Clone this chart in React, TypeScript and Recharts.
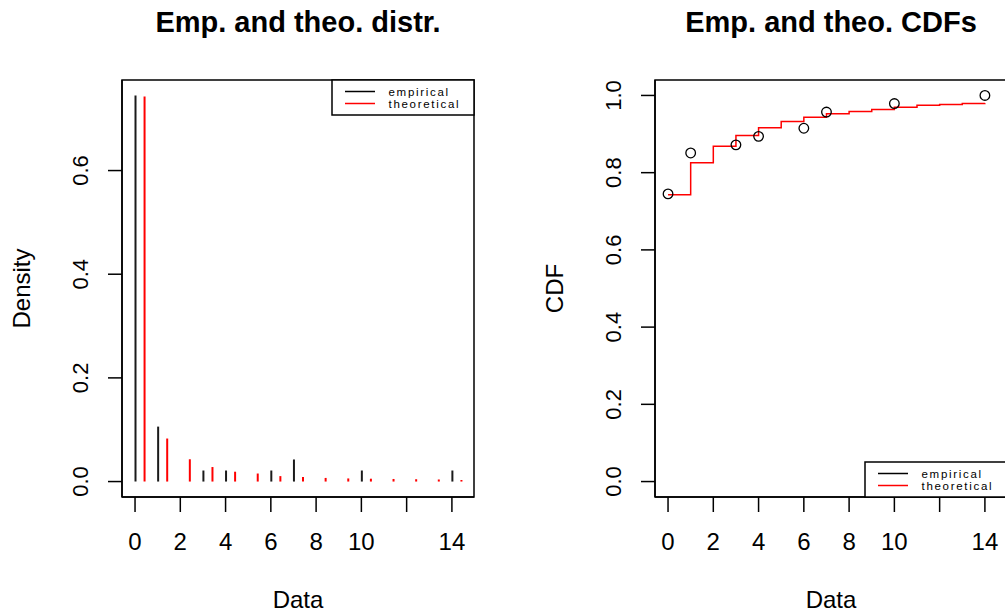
import React from 'react';
import { ComposedChart, Bar, Line, Scatter, XAxis, YAxis, Label, ReferenceArea } from 'recharts';

// ---- data ----
const empiricalValues = [0, 1, 3, 4, 6, 7, 10, 14];
const empiricalDensity = [0.745, 0.106, 0.0213, 0.0213, 0.0213, 0.0426, 0.0213, 0.0213];
const empiricalCdf = [0.745, 0.851, 0.872, 0.894, 0.915, 0.957, 0.979, 1.0];
const theoreticalValues = [0, 1, 2, 3, 4, 5, 6, 7, 8, 9, 10, 11, 12, 13, 14];
const theoreticalDensity = [0.743, 0.083, 0.043, 0.028, 0.019, 0.0155, 0.0105, 0.009, 0.007, 0.006, 0.0055, 0.005, 0.0045, 0.004, 0.003];
const theoreticalCdf = [0.7425, 0.8255, 0.8686, 0.8963, 0.9162, 0.9326, 0.9438, 0.9525, 0.9585, 0.9637, 0.9697, 0.9748, 0.9766, 0.979, 0.98];
const xTicks = [0, 2, 4, 6, 8, 10, 12, 14];
const xTickLabels = ['0', '2', '4', '6', '8', '10', '', '14'];
const densityTicks = [0, 0.2, 0.4, 0.6];
const densityTickLabels = ['0.0', '0.2', '0.4', '0.6'];
const cdfTicks = [0, 0.2, 0.4, 0.6, 0.8, 1.0];
const cdfTickLabels = ['0.0', '0.2', '0.4', '0.6', '0.8', '1.0'];
const legendLabels = ['empirical', 'theoretical'];
const panelTitles = ['Emp. and theo. distr.', 'Emp. and theo. CDFs'];
const axisTitles = { x: 'Data', densityY: 'Density', cdfY: 'CDF' };

const THEO_SHIFT = 0.4; // R draws theoretical pmf lines shifted right
const X_DOMAIN: [number, number] = [-0.576, 14.976];
const DENS_DOMAIN: [number, number] = [-0.0298, 0.7747];
const CDF_DOMAIN: [number, number] = [-0.04, 1.04];

const FONT = '"Liberation Sans", Arial, sans-serif';
const RED = '#ff0000';
const BLACK = '#000000';

const densityRows = (() => {
  const rows: { x: number; emp: number | null; theo: number | null }[] = [];
  empiricalValues.forEach((v, i) => rows.push({ x: v, emp: empiricalDensity[i], theo: null }));
  theoreticalValues.forEach((v, i) => rows.push({ x: v + THEO_SHIFT, emp: null, theo: theoreticalDensity[i] }));
  rows.sort((a, b) => a.x - b.x);
  return rows;
})();

const cdfLineRows = theoreticalValues.map((v, i) => ({ x: v, theo: theoreticalCdf[i] }));
const cdfPointRows = empiricalValues.map((v, i) => ({ x: v, emp: empiricalCdf[i] }));

const axisStroke = { stroke: BLACK, strokeWidth: 1.5 };

const makeXTick = () => (props: any) => {
  const { x, y, payload } = props;
  const idx = xTicks.indexOf(payload.value);
  const label = idx >= 0 ? xTickLabels[idx] : String(payload.value);
  return (
    <text x={x} y={y + 38} textAnchor="middle" fontFamily={FONT} fontSize={24} fill="#000">
      {label}
    </text>
  );
};

const makeYTick = (ticks: number[], labels: string[]) => (props: any) => {
  const { x, y, payload } = props;
  const idx = ticks.findIndex((t) => Math.abs(t - payload.value) < 1e-9);
  const label = idx >= 0 ? labels[idx] : String(payload.value);
  const bx = x - 20;
  return (
    <text
      x={bx}
      y={y}
      transform={`rotate(-90, ${bx}, ${y})`}
      textAnchor="middle"
      fontFamily={FONT}
      fontSize={22}
      fill="#000"
    >
      {label}
    </text>
  );
};

const xLabelContent = (props: any) => {
  const vb = props.viewBox || {};
  return (
    <text x={vb.x + vb.width / 2} y={vb.y + 111} textAnchor="middle" fontFamily={FONT} fontSize={24} fill="#000">
      {axisTitles.x}
    </text>
  );
};

const yLabelContent = (text: string, offsetFromPlot: number) => (props: any) => {
  const vb = props.viewBox || {};
  const bx = vb.x + vb.width - offsetFromPlot;
  const cy = vb.y + vb.height / 2;
  return (
    <text
      x={bx}
      y={cy}
      transform={`rotate(-90, ${bx}, ${cy})`}
      textAnchor="middle"
      fontFamily={FONT}
      fontSize={24}
      fill="#000"
    >
      {text}
    </text>
  );
};

const CircleShape = (props: any) => {
  const { cx, cy } = props;
  if (cx == null || cy == null) return null;
  return <circle cx={cx} cy={cy} r={4.8} fill="none" stroke={BLACK} strokeWidth={1.3} />;
};

const LegendBox = ({ left, top }: { left: number; top: number }) => (
  <g>
    <rect x={left} y={top} width={142} height={35} fill="#fff" stroke={BLACK} strokeWidth={1.5} />
    <line x1={left + 13} x2={left + 43} y1={top + 11.5} y2={top + 11.5} stroke={BLACK} strokeWidth={1.5} />
    <line x1={left + 13} x2={left + 43} y1={top + 23.5} y2={top + 23.5} stroke={RED} strokeWidth={1.5} />
    <text x={left + 56.5} y={top + 15.5} fontFamily={FONT} fontSize={11.5} letterSpacing={1.7} fill="#000">
      {legendLabels[0]}
    </text>
    <text x={left + 56.5} y={top + 28} fontFamily={FONT} fontSize={11.5} letterSpacing={1.7} fill="#000">
      {legendLabels[1]}
    </text>
  </g>
);

function PlotBox({ yDomain }: { yDomain: [number, number] }) {
  return (
    <ReferenceArea
      xAxisId="b"
      yAxisId="l"
      x1={X_DOMAIN[0]}
      x2={X_DOMAIN[1]}
      y1={yDomain[0]}
      y2={yDomain[1]}
      fill="none"
      fillOpacity={0}
      stroke={BLACK}
      strokeWidth={1.5}
      ifOverflow="visible"
    />
  );
}

export default function App() {
  const H = 613;
  return (
    <div
      style={{
        position: 'absolute',
        left: 0,
        top: 0,
        width: 1005,
        height: H,
        overflow: 'hidden',
        background: '#fff',
      }}
    >
      {/* Left panel: densities */}
      <div style={{ position: 'absolute', left: 0, top: 0 }}>
        <ComposedChart
          width={502}
          height={H}
          data={densityRows}
          margin={{ top: 80, right: 28, bottom: 0, left: 0 }}
        >
          <XAxis
            xAxisId="b"
            dataKey="x"
            type="number"
            domain={X_DOMAIN}
            allowDataOverflow
            ticks={xTicks}
            interval={0}
            height={116}
            tickSize={15}
            tickMargin={0}
            axisLine={axisStroke}
            tickLine={axisStroke}
            tick={makeXTick()}
          >
            <Label content={xLabelContent} />
          </XAxis>
          <YAxis
            yAxisId="l"
            type="number"
            domain={DENS_DOMAIN}
            allowDataOverflow
            ticks={densityTicks}
            interval={0}
            width={122}
            tickSize={14}
            tickMargin={0}
            axisLine={axisStroke}
            tickLine={axisStroke}
            tick={makeYTick(densityTicks, densityTickLabels)}
          >
            <Label content={yLabelContent(axisTitles.densityY, 92)} />
          </YAxis>
          {PlotBox({ yDomain: DENS_DOMAIN })}
          <Bar xAxisId="b" yAxisId="l" dataKey="emp" stackId="d" fill="#1a1a1a" barSize={2} isAnimationActive={false} />
          <Bar xAxisId="b" yAxisId="l" dataKey="theo" stackId="d" fill={RED} barSize={2} isAnimationActive={false} />
        </ComposedChart>
      </div>

      {/* Right panel: CDFs */}
      <div style={{ position: 'absolute', left: 502, top: 0 }}>
        <ComposedChart
          width={538}
          height={H}
          data={cdfLineRows}
          margin={{ top: 80, right: 33, bottom: 0, left: 0 }}
        >
          <XAxis
            xAxisId="b"
            dataKey="x"
            type="number"
            domain={X_DOMAIN}
            allowDataOverflow
            ticks={xTicks}
            interval={0}
            height={116}
            tickSize={15}
            tickMargin={0}
            axisLine={axisStroke}
            tickLine={axisStroke}
            tick={makeXTick()}
          >
            <Label content={xLabelContent} />
          </XAxis>
          <YAxis
            yAxisId="l"
            type="number"
            domain={CDF_DOMAIN}
            allowDataOverflow
            ticks={cdfTicks}
            interval={0}
            width={153}
            tickSize={14}
            tickMargin={0}
            axisLine={axisStroke}
            tickLine={axisStroke}
            tick={makeYTick(cdfTicks, cdfTickLabels)}
          >
            <Label content={yLabelContent(axisTitles.cdfY, 92)} />
          </YAxis>
          {PlotBox({ yDomain: CDF_DOMAIN })}
          <Line
            xAxisId="b"
            yAxisId="l"
            type="stepAfter"
            dataKey="theo"
            stroke={RED}
            strokeWidth={1.5}
            dot={false}
            activeDot={false}
            isAnimationActive={false}
          />
          <Scatter
            xAxisId="b"
            yAxisId="l"
            data={cdfPointRows}
            dataKey="emp"
            shape={CircleShape}
            isAnimationActive={false}
          />
        </ComposedChart>
      </div>

      {/* Titles and legends */}
      <svg
        width={1005}
        height={H}
        style={{ position: 'absolute', left: 0, top: 0, pointerEvents: 'none' }}
      >
        <text x={298} y={32} textAnchor="middle" fontFamily={FONT} fontSize={29} fontWeight="bold" fill="#000">
          {panelTitles[0]}
        </text>
        <text x={831} y={32} textAnchor="middle" fontFamily={FONT} fontSize={29} fontWeight="bold" fill="#000">
          {panelTitles[1]}
        </text>
        <LegendBox left={332} top={80} />
        <LegendBox left={865} top={462} />
      </svg>
    </div>
  );
}
